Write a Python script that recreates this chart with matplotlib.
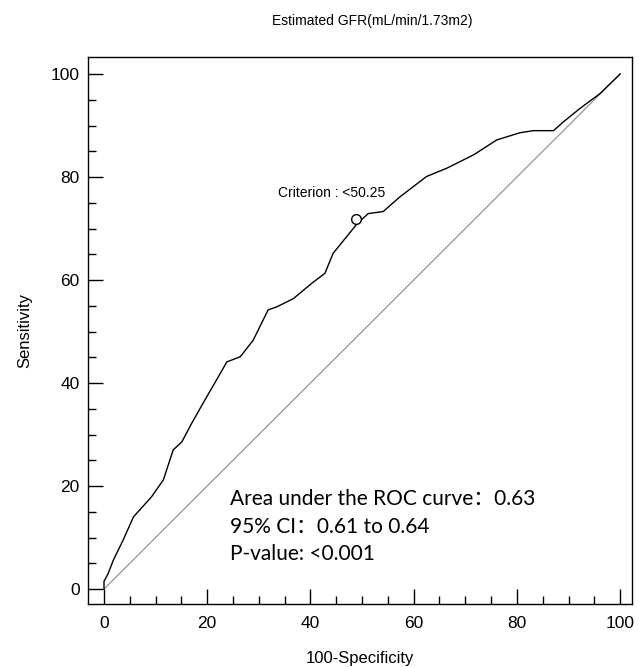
import matplotlib
matplotlib.use("Agg")
import matplotlib.pyplot as plt
from matplotlib.ticker import MultipleLocator

# ROC curve (100-specificity, sensitivity)
fpr = [0, 0, 0.8, 1.8, 3.7, 5.7, 9.2, 11.5, 13.4, 15.1, 17.0, 19.2, 21.8, 23.8, 26.4,
       28.9, 31.8, 33.5, 36.7, 40.3, 42.8, 44.4, 47.0, 49.1, 51.2, 54.1, 57.4, 62.5,
       66.4, 71.6, 76.1, 80.6, 83.2, 87.1, 89.0, 92.2, 96.1, 100]
tpr = [0, 1.5, 3.0, 5.6, 9.5, 14.0, 17.9, 21.2, 27.0, 28.6, 32.2, 36.1, 40.6, 44.1, 45.1,
       48.3, 54.2, 54.8, 56.4, 59.4, 61.3, 65.2, 68.4, 71.0, 72.9, 73.3, 76.2, 80.1,
       81.7, 84.3, 87.2, 88.6, 89.0, 89.0, 90.7, 93.3, 96.2, 100]
crit_x = 48.8
crit_y = 71.8
crit_label = "Criterion : <50.25"
title = "Estimated GFR(mL/min/1.73m2)"
stats = ["Area under the ROC curve\uff1a0.63", "95% CI\uff1a0.61 to 0.64", "P-value: <0.001"]

plt.rcParams['font.family'] = ['Liberation Sans', 'DejaVu Sans']

fig = plt.figure(figsize=(6.39, 6.67), dpi=100)
ax = fig.add_axes([88/639, 1-604/667, (632-88)/639, (604-57)/667])

ax.plot([0, 100], [0, 100], color='#888888', lw=0.8)
ax.plot(fpr, tpr, color='black', lw=1.0)
ax.plot(crit_x, crit_y, 'o', ms=7, mfc='white', mec='black', mew=1.0)
ax.text(33.7, 76.1, crit_label, fontsize=10, va='baseline', ha='left')

for i, s in enumerate(stats):
    ax.text(24.4, 16.3 - i*5.35, s, fontsize=15, va='baseline', ha='left',
            family=['Lato', 'Noto Sans CJK SC', 'DejaVu Sans'])

ax.set_xlim(-3.1, 102.3)
ax.set_ylim(-2.9, 103.3)
ax.xaxis.set_major_locator(MultipleLocator(20))
ax.xaxis.set_minor_locator(MultipleLocator(5))
ax.yaxis.set_major_locator(MultipleLocator(20))
ax.yaxis.set_minor_locator(MultipleLocator(5))
ax.tick_params(which='both', direction='in', top=False, right=False, labelsize=12.5, width=1)
ax.tick_params(which='major', length=10.5)
ax.tick_params(which='minor', length=5.5)
ax.tick_params(axis='x', which='major', pad=9)
ax.tick_params(axis='y', which='major', pad=6)
for sp in ax.spines.values():
    sp.set_linewidth(1)

ax.set_xlabel("100-Specificity", fontsize=12, labelpad=14)
ax.set_ylabel("Sensitivity", fontsize=12, labelpad=13)
fig.text(272/639, 1-25/667, title, fontsize=10, va='baseline', ha='left')

fig.savefig("out.png", dpi=100)
